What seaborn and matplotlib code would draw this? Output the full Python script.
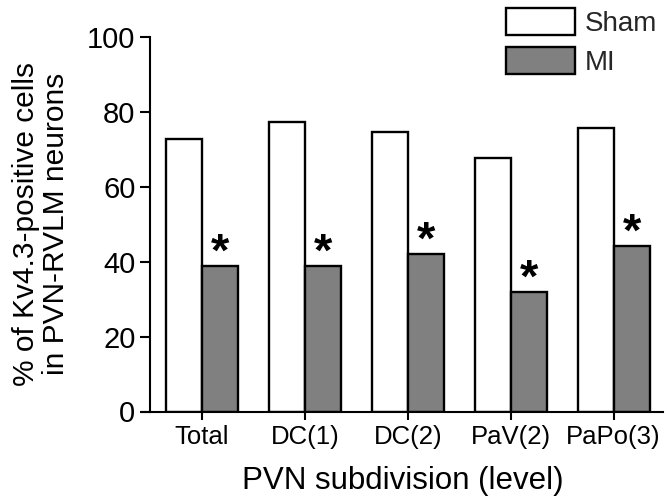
import matplotlib
matplotlib.use("Agg")
import matplotlib.pyplot as plt
import seaborn as sns
import pandas as pd
from matplotlib.patches import Patch

categories = ["Total", "DC(1)", "DC(2)", "PaV(2)", "PaPo(3)"]
sham = [72.7, 77.2, 74.6, 67.6, 75.5]
mi = [38.8, 38.9, 41.9, 31.8, 44.1]
groups = ["Sham", "MI"]
significant = [True, True, True, True, True]

sns.set_theme(style="ticks")
plt.rcParams["font.family"] = ["Liberation Sans", "DejaVu Sans"]

df = pd.DataFrame({
    "subdivision": categories * 2,
    "group": ["Sham"] * len(categories) + ["MI"] * len(categories),
    "value": sham + mi,
})

fig = plt.figure(figsize=(6.67, 4.97), dpi=100)
ax = fig.add_axes([142 / 667, 1 - 411.5 / 497, (663 - 142) / 667, (411.5 - 36.5) / 497])

sns.barplot(data=df, x="subdivision", y="value", hue="group", order=categories,
            hue_order=groups, palette={"Sham": "white", "MI": "#808080"},
            edgecolor="black", linewidth=1.7, width=0.7, errorbar=None, ax=ax,
            legend=False)

ax.set_xlim(-0.583, 4.48)
ax.set_ylim(0, 100)
ax.set_yticks([0, 20, 40, 60, 80, 100])
ax.spines["left"].set_position(("data", -0.505))
ax.spines["left"].set_bounds(0, 100)
ax.spines["top"].set_visible(False)
ax.spines["right"].set_visible(False)
for s in ["left", "bottom"]:
    ax.spines[s].set_linewidth(1.5)
    ax.spines[s].set_color("black")

ax.tick_params(axis="y", direction="out", length=7, width=1.5, pad=3.5,
               labelsize=21, colors="black")
ax.tick_params(axis="x", direction="out", length=6, width=1.5, pad=4,
               labelsize=18.5, colors="black")

ax.set_xlabel("PVN subdivision (level)", fontsize=22.5, labelpad=12, color="black")
ax.set_ylabel("% of Kv4.3-positive cells\nin PVN-RVLM neurons", fontsize=21.5,
              linespacing=1.1, labelpad=12, color="black")

# significance stars above MI bars
mi_bars = ax.containers[1]
for bar, val, sig in zip(mi_bars, mi, significant):
    if sig:
        cx = bar.get_x() + bar.get_width() / 2
        ax.annotate("*", xy=(cx, val), xytext=(0, -7), textcoords="offset points",
                    ha="center", va="bottom", fontsize=34, fontweight="bold",
                    color="black", annotation_clip=False)

handles = [Patch(facecolor="white", edgecolor="black", linewidth=1.7),
           Patch(facecolor="#808080", edgecolor="black", linewidth=1.7)]
fig.legend(handles, groups, loc="upper left", bbox_to_anchor=(506 / 667, 1 - 8 / 497),
           frameon=False, fontsize=20, handlelength=2.5, handleheight=1.1,
           labelspacing=0.38, handletextpad=0.35, borderpad=0, borderaxespad=0)

fig.savefig("out.png", dpi=100)
